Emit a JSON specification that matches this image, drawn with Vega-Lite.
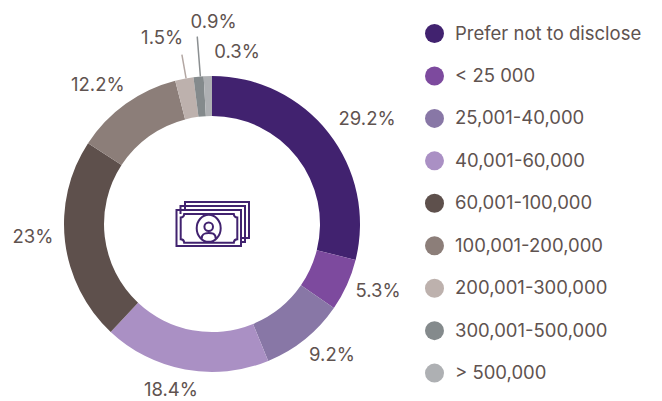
{"$schema":"https://vega.github.io/schema/vega-lite/v6.json","width":424,"height":354,"padding":{"left":0,"top":47,"right":238,"bottom":0},"autosize":{"type":"none"},"background":"#ffffff","config":{"view":{"stroke":null},"font":"Inter","text":{"font":"Inter"}},"layer":[{"data":{"values":[{"band":"Prefer not to disclose","value":28.9,"i":1},{"band":"< 25 000","value":5.7,"i":2},{"band":"25,001-40,000","value":9.2,"i":3},{"band":"40,001-60,000","value":18.2,"i":4},{"band":"60,001-100,000","value":22.2,"i":5},{"band":"100,001-200,000","value":11.8,"i":6},{"band":"200,001-300,000","value":2.0,"i":7},{"band":"300,001-500,000","value":1.1,"i":8},{"band":"> 500,000","value":0.9,"i":9}]},"mark":{"type":"arc","radius":148,"radius2":108,"stroke":null},"encoding":{"theta":{"field":"value","type":"quantitative","stack":true,"scale":{"domain":[0,100]}},"order":{"field":"i","type":"quantitative"},"color":{"field":"band","type":"nominal","sort":null,"scale":{"domain":["Prefer not to disclose","< 25 000","25,001-40,000","40,001-60,000","60,001-100,000","100,001-200,000","200,001-300,000","300,001-500,000","> 500,000"],"range":["#41226f","#7d4a9e","#8877a6","#aa90c4","#5e504c","#8c7e79","#bdb1ad","#848a8c","#aeb0b3"]},"legend":{"title":null,"orient":"none","legendX":425,"legendY":-23,"symbolType":"circle","symbolSize":361,"symbolStrokeWidth":0,"labelFontSize":18.5,"labelColor":"#5f5350","labelFont":"Inter","labelOffset":11,"rowPadding":23.45,"columnPadding":0,"labelLimit":220}}}},{"data":{"values":[{"angle":97.2,"r1":148,"r2":172}]},"mark":{"type":"arc","stroke":"#b3a7a3","strokeWidth":1.5},"encoding":{"theta":{"field":"angle","type":"quantitative"},"theta2":{"field":"angle"},"radius":{"field":"r1","type":"quantitative","scale":{"type":"linear","domain":[0,240],"range":[0,240]}},"radius2":{"field":"r2"}}},{"data":{"values":[{"angle":98.75,"r1":148,"r2":188}]},"mark":{"type":"arc","stroke":"#8b8f91","strokeWidth":1.5},"encoding":{"theta":{"field":"angle","type":"quantitative"},"theta2":{"field":"angle"},"radius":{"field":"r1","type":"quantitative"},"radius2":{"field":"r2"}}},{"data":{"values":[{"label":"29.2%","angle":15.56,"dist":187},{"label":"5.3%","angle":31.1,"dist":179},{"label":"9.2%","angle":38.2,"dist":177.6},{"label":"18.4%","angle":53.86,"dist":171},{"label":"23%","angle":73.83,"dist":179.5},{"label":"12.2%","angle":89.06,"dist":180},{"label":"1.5%","angle":95.83,"dist":192.6},{"label":"0.9%","angle":0.12,"dist":202},{"label":"0.3%","angle":2.3,"dist":174}]},"mark":{"type":"text","fontSize":18.5,"color":"#5f5350","font":"Inter","align":"center","baseline":"middle"},"encoding":{"text":{"field":"label","type":"nominal"},"theta":{"field":"angle","type":"quantitative"},"radius":{"field":"dist","type":"quantitative"}}},{"data":{"values":[{"icon":"banknotes"}]},"mark":{"type":"point","filled":false,"size":4,"opacity":1,"stroke":"#41226f","strokeWidth":2,"shape":"M-27,-14 V-22 H37 V14 H29 M-31.5,-10 V-18 H33 V18 H29 M-35.5,-14 H29 V22 H-35.5 Z M-27.8,-10 H21.8 Q22,-6.5 25.3,-6.5 V15.2 Q22,15.2 21.8,18.7 H-27.8 Q-28,15.2 -31.3,15.2 V-6.5 Q-28,-6.5 -27.8,-10 Z M-15.3,4.3 A12,13.5 0 1 1 8.7,4.3 A12,13.5 0 1 1 -15.3,4.3 Z M-7.6,2.7 A4.3,4.3 0 1 1 1,2.7 A4.3,4.3 0 1 1 -7.6,2.7 Z M-10.3,14.5 C-10.3,9 -6,9 -3.3,9 C-0.6,9 3.7,9 3.7,14.5"},"encoding":{}}]}
